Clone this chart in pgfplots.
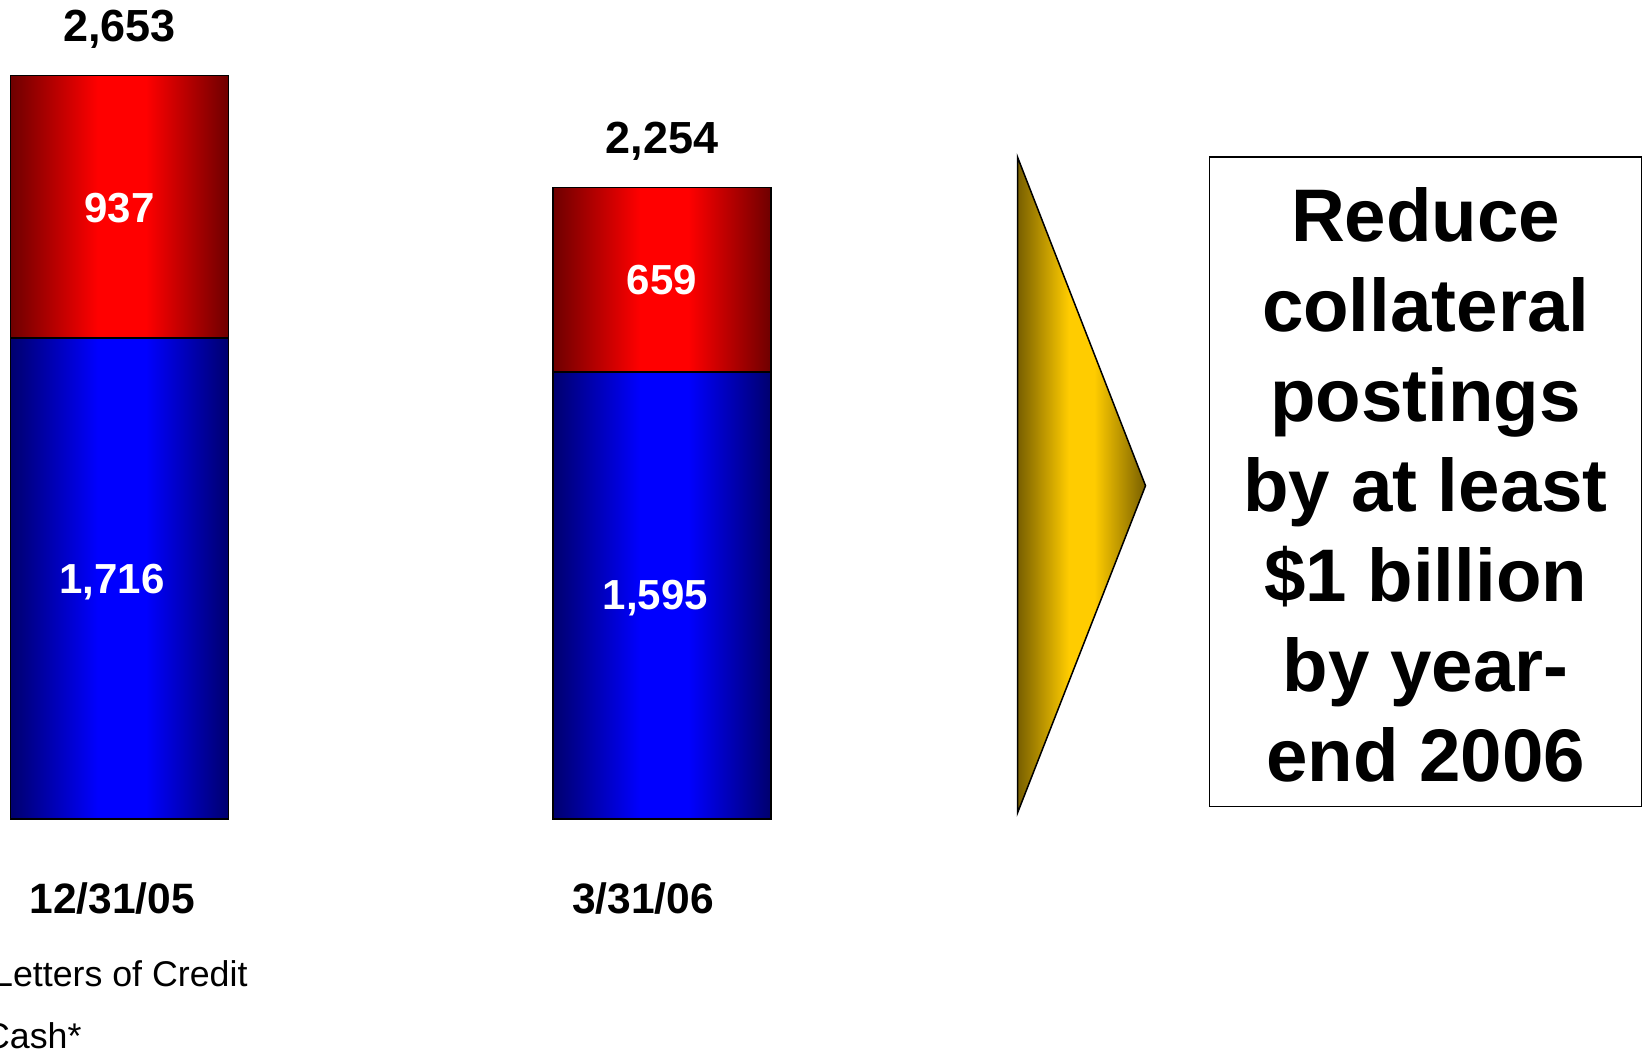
\documentclass[border=0pt]{standalone}
\usepackage{pgfplots}
\pgfplotsset{compat=1.18}
\usepackage{fontspec}
\setmainfont{Liberation Sans}
\definecolor{dred}{RGB}{110,0,0}
\definecolor{dblue}{RGB}{0,0,110}
\definecolor{dgold}{RGB}{120,95,0}
\definecolor{gold}{RGB}{255,204,0}
\pgfdeclarehorizontalshading{redshade}{100bp}{color(0bp)=(dred); color(25bp)=(dred); color(45bp)=(red); color(56bp)=(red); color(75bp)=(dred); color(100bp)=(dred)}
\pgfdeclarehorizontalshading{blueshade}{100bp}{color(0bp)=(dblue); color(25bp)=(dblue); color(45bp)=(blue); color(56bp)=(blue); color(75bp)=(dblue); color(100bp)=(dblue)}
\pgfdeclarehorizontalshading{goldshade}{100bp}{color(0bp)=(dgold); color(25bp)=(dgold); color(45bp)=(gold); color(55bp)=(gold); color(75bp)=(dgold); color(100bp)=(dgold)}
\tikzset{vl/.style={anchor=base, font=\fontsize{16.8}{20}\selectfont\bfseries},
  redbar/.style={draw=black, line width=0.5pt, shade, shading=redshade},
  bluebar/.style={draw=black, line width=0.5pt, shade, shading=blueshade}}
\begin{document}
\begin{tikzpicture}[x=0.4pt,y=0.4pt]
\clip (0,0) rectangle (1645,1055);
\path[use as bounding box] (0,0) rectangle (1645,1055);
\begin{axis}[
  at={(0,0)}, anchor=south west,
  scale only axis, width=658pt, height=422pt,
  xmin=-0.2205, xmax=2.8123, ymin=-842.1, ymax=2922.4,
  hide axis, clip=false,
  ybar, bar width=0.402, bar shift=0pt,
]
% Letters of Credit on top of Cash*: total bars drawn first, Cash* over them
\addplot[redbar] coordinates {(0,2653)};   % 1716 + 937
\addplot[redbar] coordinates {(1,2254)};   % 1595 + 659
\addplot[bluebar] coordinates {(0,1716)};
\addplot[bluebar] coordinates {(1,1595)};
\coordinate (l1) at (axis cs:0,2127.8);
\coordinate (c1) at (axis cs:0,806.4);
\coordinate (l2) at (axis cs:1,1869.8);
\coordinate (c2) at (axis cs:1,745.8);
\coordinate (t1) at (axis cs:0,2773.6);
\coordinate (t2) at (axis cs:1,2375);
\coordinate (d1) at (axis cs:0,-335.4);
\coordinate (d2) at (axis cs:1,-335.4);
\end{axis}
\node[vl, white] at (l1) {937};
\node[vl, white, xshift=-3pt] at (c1) {1,716};
\node[vl, white] at (l2) {659};
\node[vl, white, xshift=-2.6pt] at (c2) {1,595};
\node[anchor=base, font=\fontsize{18}{20}\selectfont\bfseries] at (t1) {2,653};
\node[anchor=base, font=\fontsize{18}{20}\selectfont\bfseries] at (t2) {2,254};
\node[anchor=base, xshift=-3pt, font=\fontsize{17}{20}\selectfont\bfseries] at (d1) {12/31/05};
\node[anchor=base, xshift=-7.6pt, font=\fontsize{17}{20}\selectfont\bfseries] at (d2) {3/31/06};
% arrow
\shade[shading=goldshade] (1017.5,898) -- (1145.5,569.3) -- (1017.5,242) -- cycle;
\draw[line width=0.6pt, line join=miter] (1017.5,898) -- (1145.5,569.3) -- (1017.5,242) -- cycle;
% box
\draw[line width=0.6pt] (1209.5,898) rectangle (1641.7,248.3);
\node[align=center, font=\fontsize{29.8}{36}\selectfont\bfseries] at (1425.6,570.4)
  {Reduce\\collateral\\postings\\by at least\\\$1 billion\\by year-\\end 2006};
% legend text (markers cropped off in the reference)
\node[anchor=base east, inner sep=0pt, font=\fontsize{14.3}{17}\selectfont] at (248,68.3) {Letters of Credit};
\node[anchor=base east, inner sep=0pt, font=\fontsize{14.3}{17}\selectfont] at (82,7) {Cash*};
\end{tikzpicture}
\end{document}
